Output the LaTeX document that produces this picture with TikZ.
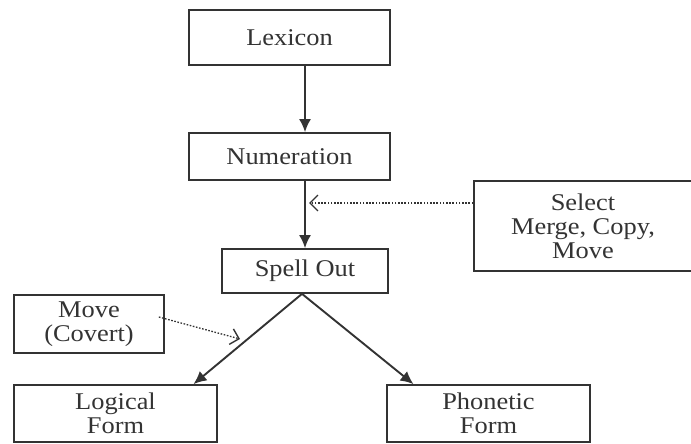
\documentclass[tikz,border=0pt]{standalone}
\usepackage{fontspec}
\setmainfont{Liberation Serif}[FakeStretch=1.1]
\usetikzlibrary{arrows.meta,positioning}
\definecolor{inkgray}{HTML}{333333}

\begin{document}
\begin{tikzpicture}[x=1pt, y=-1pt, >=Latex,
    stage/.style={draw=inkgray, line width=1.7pt, text=inkgray, align=center,
      inner sep=0pt, font=\fontsize{24}{24}\selectfont},
    flow/.style={draw=inkgray, line width=1.9pt, -{Latex[length=13pt,width=12pt]}},
    oper/.style={draw=inkgray, line width=1.3pt, dash pattern=on 1.6pt off 1.6pt,
      -{Straight Barb[length=8pt,width=16pt,line width=1.4pt]}}]
    \clip (0,0) rectangle (691,444);

    % Derivation stages
    \node[stage, minimum width=201pt, minimum height=55pt] (lex) at (289.5,37.5) {Lexicon};
    \node[stage, minimum width=201pt, minimum height=47pt] (num) at (289.5,156.5) {Numeration};
    \node[stage, minimum width=166pt, minimum height=44pt] (sp) at (305,271) {Spell Out};
    \node[stage, minimum width=203pt, minimum height=57pt] (lf) at (115.5,413.5) {Logical\\Form};
    \node[stage, minimum width=203pt, minimum height=57pt] (pf) at (488.5,413.5) {Phonetic\\Form};

    % Operations
    \node[stage, minimum width=218pt, minimum height=90pt] (sel) at (583,226) {Select\\Merge, Copy,\\Move};
    \node[stage, minimum width=150pt, minimum height=58pt] (mv) at (89,324) {Move\\(Covert)};

    % Main line
    \draw[flow] (lex.south -| sp.north) -- (num.north -| sp.north);
    \draw[flow] (num.south -| sp.north) -- (sp.north);
    \draw[flow] ([xshift=-3pt]sp.south) -- ([xshift=78pt]lf.north);
    \draw[flow] ([xshift=-3pt]sp.south) -- ([xshift=-75pt]pf.north);

    % Dotted inputs
    \path ([yshift=23pt]sel.west) coordinate (selout);
    \coordinate (selin) at ([xshift=4pt]selout -| sp.north);
    \draw[oper] (selout) -- (selin);
    \coordinate (covert) at (240,339);
    \draw[oper] ([xshift=-6pt,yshift=7pt]mv.east) -- (covert);
\end{tikzpicture}
\end{document}
